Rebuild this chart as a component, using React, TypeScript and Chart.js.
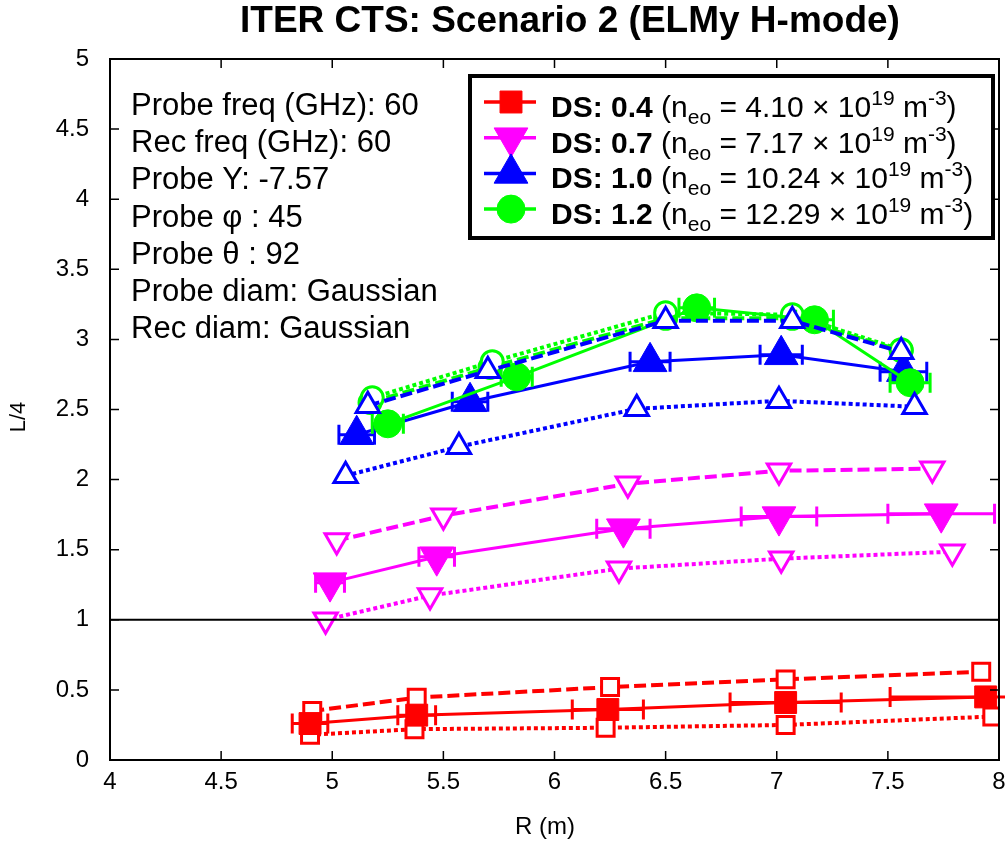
import React, { useEffect, useRef } from "react";
import { Chart, registerables } from "chart.js";

Chart.register(...registerables);

const FONT = '"Liberation Sans", Arial, Helvetica, sans-serif';

const chartTitle = "ITER CTS: Scenario 2 (ELMy H-mode)";
const xTitle = "R (m)";
const yTitle = "L/4";

const infoLines = [
  "Probe freq (GHz): 60",
  "Rec freq (GHz): 60",
  "Probe Y: -7.57",
  "Probe \u03C6 : 45",
  "Probe \u03B8 : 92",
  "Probe diam: Gaussian",
  "Rec diam: Gaussian",
];

const xTicks = { min: 4, max: 8, step: 0.5 };
const yTicks = { min: 0, max: 5, step: 0.5 };

// DS 0.4 (red squares)
const redR = [4.9, 5.38, 6.24, 7.04, 7.94];
const redL = [0.26, 0.32, 0.36, 0.41, 0.45];
const redErr = [0.08, 0.085, 0.16, 0.25, 0.43];
const redHiR = [4.91, 5.38, 6.25, 7.04, 7.92];
const redHiL = [0.35, 0.445, 0.52, 0.575, 0.63];
const redLoR = [4.9, 5.37, 6.23, 7.04, 7.97];
const redLoL = [0.18, 0.22, 0.23, 0.25, 0.31];

// DS 0.7 (magenta down-triangles)
const magR = [4.99, 5.47, 6.31, 7.01, 7.74];
const magL = [1.265, 1.45, 1.65, 1.736, 1.757];
const magErr = [0.065, 0.08, 0.12, 0.17, 0.24];
const magHiR = [5.02, 5.5, 6.33, 7.01, 7.7];
const magHiL = [1.565, 1.743, 1.97, 2.063, 2.078];
const magLoR = [4.97, 5.44, 6.29, 7.02, 7.79];
const magLoL = [1.0, 1.173, 1.365, 1.436, 1.486];

// DS 1.0 (blue up-triangles)
const bluR = [5.11, 5.62, 6.43, 7.02, 7.57];
const bluL = [2.32, 2.555, 2.84, 2.89, 2.77];
const bluErr = [0.08, 0.08, 0.09, 0.095, 0.105];
const bluHiR = [5.16, 5.7, 6.5, 7.07, 7.56];
const bluHiL = [2.527, 2.776, 3.133, 3.133, 2.912];
const bluLoR = [5.06, 5.57, 6.37, 7.01, 7.62];
const bluLoL = [2.028, 2.235, 2.505, 2.562, 2.52];

// DS 1.2 (green circles)
const grnR = [5.25, 5.83, 6.64, 7.17, 7.6];
const grnL = [2.398, 2.733, 3.225, 3.14, 2.691];
const grnErr = [0.07, 0.07, 0.08, 0.085, 0.09];
const grnHiR = [5.18, 5.72, 6.5, 7.07, 7.56];
const grnHiL = [2.584, 2.841, 3.19, 3.176, 2.926];
const grnLoR = [5.17, 5.71, 6.5, 7.07, 7.56];
const grnLoL = [2.55, 2.8, 3.15, 3.15, 2.92];

const legendDS = ["0.4", "0.7", "1.0", "1.2"];
const legendNe = ["4.10", "7.17", "10.24", "12.29"];

const RED = "#ff0000";
const MAG = "#ff00ff";
const BLU = "#0000ff";
const GRN = "#00ff00";

type Marker = { style: string; rot: number; rFill: number; rOpen: number };
const MK_SQ: Marker = { style: "rect", rot: 0, rFill: 15.5, rOpen: 12 };
const MK_DN: Marker = { style: "triangle", rot: 180, rFill: 19.5, rOpen: 13.5 };
const MK_UP: Marker = { style: "triangle", rot: 0, rFill: 19.5, rOpen: 13.5 };
const MK_CI: Marker = { style: "circle", rot: 0, rFill: 14, rOpen: 11 };

const pts = (r: number[], l: number[]) => r.map((x, i) => ({ x, y: l[i] }));

function solidSet(label: string, color: string, mk: Marker, r: number[], l: number[], err: number[], order: number) {
  return {
    label,
    data: pts(r, l),
    xErr: err,
    showLine: true,
    borderColor: color,
    borderWidth: 3,
    pointStyle: mk.style,
    pointRotation: mk.rot,
    pointRadius: mk.rFill,
    pointBackgroundColor: color,
    pointBorderColor: color,
    pointBorderWidth: 1,
    order,
  };
}

function openSet(label: string, color: string, mk: Marker, r: number[], l: number[], dash: number[], order: number) {
  return {
    label,
    data: pts(r, l),
    showLine: true,
    borderColor: color,
    borderWidth: 4,
    borderDash: dash,
    pointStyle: mk.style,
    pointRotation: mk.rot,
    pointRadius: mk.rOpen,
    pointBackgroundColor: "#ffffff",
    pointBorderColor: color,
    pointBorderWidth: 3,
    order,
  };
}

const DASH = [12, 5];
const DOT = [4, 3];

function drawMarker(ctx: CanvasRenderingContext2D, mk: Marker, x: number, y: number, r: number, color: string) {
  ctx.beginPath();
  if (mk.style === "rect") {
    const s = Math.SQRT1_2 * r;
    ctx.rect(x - s, y - s, 2 * s, 2 * s);
  } else if (mk.style === "circle") {
    ctx.arc(x, y, r, 0, Math.PI * 2);
  } else {
    let a = (mk.rot * Math.PI) / 180;
    ctx.moveTo(x + Math.sin(a) * r, y - Math.cos(a) * r);
    a += (2 * Math.PI) / 3;
    ctx.lineTo(x + Math.sin(a) * r, y - Math.cos(a) * r);
    a += (2 * Math.PI) / 3;
    ctx.lineTo(x + Math.sin(a) * r, y - Math.cos(a) * r);
    ctx.closePath();
  }
  ctx.fillStyle = color;
  ctx.fill();
  ctx.strokeStyle = color;
  ctx.lineWidth = 1;
  ctx.stroke();
}

// horizontal error bars with end caps, drawn right after their own dataset
const errorBarPlugin = {
  id: "xErrorBars",
  afterDatasetDraw(chart: any, args: any) {
    const ds = chart.data.datasets[args.index];
    if (!ds.xErr) return;
    const { ctx, chartArea, scales } = chart;
    ctx.save();
    ctx.beginPath();
    ctx.rect(chartArea.left, chartArea.top, chartArea.right - chartArea.left + 6, chartArea.bottom - chartArea.top);
    ctx.clip();
    ctx.strokeStyle = ds.borderColor;
    ctx.lineWidth = 3;
    ds.data.forEach((p: any, i: number) => {
      const e = ds.xErr[i];
      const x0 = scales.x.getPixelForValue(p.x - e);
      const x1 = scales.x.getPixelForValue(p.x + e);
      const y = scales.y.getPixelForValue(p.y);
      ctx.beginPath();
      ctx.moveTo(x0, y);
      ctx.lineTo(x1, y);
      ctx.moveTo(x0, y - 10);
      ctx.lineTo(x0, y + 10);
      ctx.moveTo(x1, y - 10);
      ctx.lineTo(x1, y + 10);
      ctx.stroke();
    });
    ctx.restore();
  },
};

// frame with inward ticks on all four sides
const framePlugin = {
  id: "frameTicks",
  afterDatasetsDraw(chart: any) {
    const { ctx, chartArea: a, scales } = chart;
    ctx.save();
    ctx.strokeStyle = "#000";
    ctx.lineWidth = 1.5;
    const tl = 9;
    ctx.beginPath();
    scales.x.ticks.forEach((t: any) => {
      const x = scales.x.getPixelForValue(t.value);
      ctx.moveTo(x, a.bottom);
      ctx.lineTo(x, a.bottom - tl);
      ctx.moveTo(x, a.top);
      ctx.lineTo(x, a.top + tl);
    });
    scales.y.ticks.forEach((t: any) => {
      const y = scales.y.getPixelForValue(t.value);
      ctx.moveTo(a.left, y);
      ctx.lineTo(a.left + tl, y);
      ctx.moveTo(a.right, y);
      ctx.lineTo(a.right - tl, y);
    });
    ctx.stroke();
    ctx.lineWidth = 2;
    ctx.strokeRect(a.left, a.top, a.right - a.left, a.bottom - a.top);
    ctx.restore();
  },
};

type Run = { t: string; size: number; bold?: boolean; dy?: number };

function drawRuns(ctx: CanvasRenderingContext2D, x: number, y: number, runs: Run[]) {
  let cx = x;
  for (const r of runs) {
    ctx.font = `${r.bold ? "bold " : ""}${r.size}px ${FONT}`;
    ctx.fillText(r.t, cx, y + (r.dy || 0));
    cx += ctx.measureText(r.t).width;
  }
}

const legendItems = [
  { color: RED, mk: MK_SQ },
  { color: MAG, mk: MK_DN },
  { color: BLU, mk: MK_UP },
  { color: GRN, mk: MK_CI },
];

// title, axis titles, info text and the legend box
const textPlugin = {
  id: "textLayer",
  afterDraw(chart: any) {
    const { ctx } = chart;
    ctx.save();
    ctx.fillStyle = "#000";
    ctx.textBaseline = "alphabetic";

    ctx.font = `bold 37px ${FONT}`;
    ctx.textAlign = "left";
    ctx.fillText(chartTitle, 240, 32);

    ctx.textAlign = "center";
    ctx.font = `24px ${FONT}`;
    ctx.fillText(xTitle, 545, 834);

    ctx.save();
    ctx.translate(19, 417);
    ctx.rotate(-Math.PI / 2);
    ctx.font = `22px ${FONT}`;
    ctx.textBaseline = "middle";
    ctx.fillText(yTitle, 0, 0);
    ctx.restore();

    ctx.textAlign = "left";
    ctx.font = `31px ${FONT}`;
    infoLines.forEach((s, i) => ctx.fillText(s, 131, 115 + i * 37.2));

    // legend
    const bx = 470, by = 76, bw = 523, bh = 162;
    ctx.fillStyle = "#fff";
    ctx.fillRect(bx, by, bw, bh);
    ctx.strokeStyle = "#000";
    ctx.lineWidth = 4;
    ctx.strokeRect(bx, by, bw, bh);

    legendItems.forEach((it, i) => {
      const cy = 102 + i * 35.7;
      ctx.strokeStyle = it.color;
      ctx.lineWidth = 3.5;
      ctx.beginPath();
      ctx.moveTo(484, cy);
      ctx.lineTo(536, cy);
      ctx.stroke();
      drawMarker(ctx, it.mk, 511, cy, it.mk.rFill, it.color);
      ctx.fillStyle = "#000";
      drawRuns(ctx, 551, cy + 15, [
        { t: `DS: ${legendDS[i]}`, size: 30, bold: true },
        { t: " (n", size: 30 },
        { t: "eo", size: 21, dy: 7 },
        { t: ` = ${legendNe[i]} \u00D7 10`, size: 30 },
        { t: "19", size: 21, dy: -12 },
        { t: " m", size: 30 },
        { t: "-3", size: 21, dy: -12 },
        { t: ")", size: 30 },
      ]);
    });
    ctx.restore();
  },
};

const tickText = (v: any) => String(Number(v));

export default function App() {
  const ref = useRef<HTMLCanvasElement | null>(null);

  useEffect(() => {
    if (!ref.current) return;
    const datasets: any[] = [
      {
        label: "L/4 = 1",
        data: [
          { x: xTicks.min, y: 1 },
          { x: xTicks.max, y: 1 },
        ],
        showLine: true,
        borderColor: "#000",
        borderWidth: 2,
        pointRadius: 0,
        order: 0,
      },
      solidSet("DS 0.4", RED, MK_SQ, redR, redL, redErr, 10),
      openSet("DS 0.4 upper", RED, MK_SQ, redHiR, redHiL, DASH, 11),
      openSet("DS 0.4 lower", RED, MK_SQ, redLoR, redLoL, DOT, 12),
      solidSet("DS 0.7", MAG, MK_DN, magR, magL, magErr, 7),
      openSet("DS 0.7 upper", MAG, MK_DN, magHiR, magHiL, DASH, 8),
      openSet("DS 0.7 lower", MAG, MK_DN, magLoR, magLoL, DOT, 9),
      solidSet("DS 1.0", BLU, MK_UP, bluR, bluL, bluErr, 4),
      openSet("DS 1.0 upper", BLU, MK_UP, bluHiR, bluHiL, DASH, 1),
      openSet("DS 1.0 lower", BLU, MK_UP, bluLoR, bluLoL, DOT, 2),
      solidSet("DS 1.2", GRN, MK_CI, grnR, grnL, grnErr, 3),
      openSet("DS 1.2 upper", GRN, MK_CI, grnHiR, grnHiL, DOT, 5),
      openSet("DS 1.2 lower", GRN, MK_CI, grnLoR, grnLoL, DASH, 6),
    ];

    const chart = new Chart(ref.current, {
      type: "scatter",
      data: { datasets },
      options: {
        animation: false,
        responsive: false,
        maintainAspectRatio: false,
        layout: { autoPadding: false, padding: { top: 59, right: 9, left: 0, bottom: 0 } },
        plugins: {
          legend: { display: false },
          title: { display: false },
          tooltip: { enabled: false },
        },
        scales: {
          x: {
            type: "linear",
            min: xTicks.min,
            max: xTicks.max,
            ticks: {
              stepSize: xTicks.step,
              autoSkip: false,
              maxRotation: 0,
              padding: 8,
              color: "#000",
              font: { family: FONT, size: 24 },
              callback: tickText,
            },
            grid: { display: false, drawTicks: false },
            border: { display: false },
            afterFit: (s: any) => {
              s.height = 81;
              s.paddingLeft = 0;
              s.paddingRight = 0;
            },
          },
          y: {
            type: "linear",
            min: yTicks.min,
            max: yTicks.max,
            ticks: {
              stepSize: yTicks.step,
              autoSkip: false,
              padding: 21,
              color: "#000",
              font: { family: FONT, size: 24 },
              callback: tickText,
            },
            grid: { display: false, drawTicks: false },
            border: { display: false },
            afterFit: (s: any) => {
              s.width = 110;
              s.paddingTop = 0;
              s.paddingBottom = 0;
            },
          },
        },
      } as any,
      plugins: [errorBarPlugin, framePlugin, textPlugin],
    });
    return () => chart.destroy();
  }, []);

  return (
    <div style={{ position: "absolute", left: 0, top: 0, width: 1008, height: 841, background: "#fff" }}>
      <canvas ref={ref} width={1008} height={841} style={{ width: 1008, height: 841, display: "block" }} />
    </div>
  );
}
